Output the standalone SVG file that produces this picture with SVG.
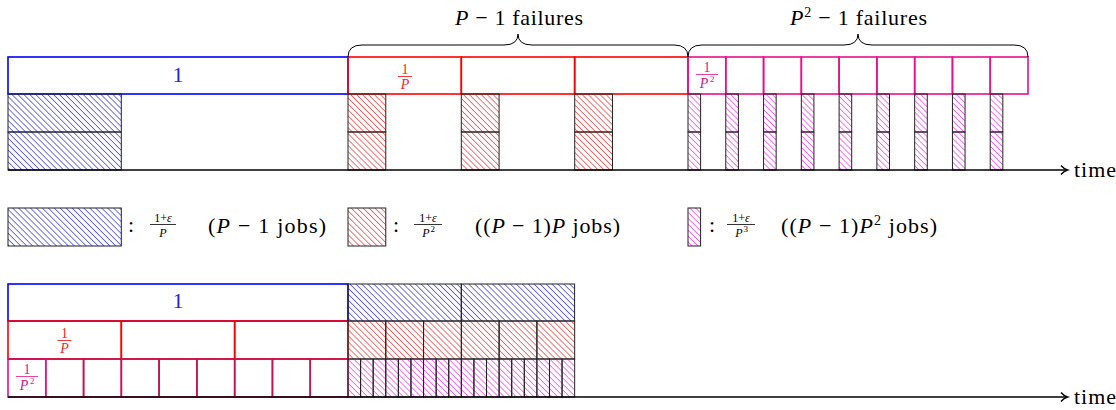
<svg xmlns="http://www.w3.org/2000/svg" width="1116" height="410" viewBox="0 0 1116 410">
<style>
.bg{fill:#fff}
.box{fill:none;stroke-width:1.6}
.b{stroke:#0000ff}
.r{stroke:#ff0000}
.m{stroke:#e8108a}
.c{stroke:#c8124e}
.job{stroke:#222;stroke-width:1}
.jb{fill:url(#hb)}
.jr{fill:url(#hr)}
.jm{fill:url(#hm)}
text{font-family:"Liberation Serif","DejaVu Serif","Times New Roman",serif;fill:#000}
.t{font-size:22px}
.s{font-size:14px}
.ss{font-size:12px}
.xs{font-size:9px}
.i{font-style:italic}
.tb{fill:#2020ff}
.tr{fill:#ff2020}
.tm{fill:#e8108a}
.bar{stroke-width:0.8}
.brace{fill:none;stroke:#000;stroke-width:1}
.axis{fill:none;stroke:#000;stroke-width:1.5}
</style>
<defs>
<pattern id="hb" patternUnits="userSpaceOnUse" width="4.2" height="4.2" patternTransform="rotate(-45)"><line x1="0" y1="-1" x2="0" y2="6" stroke="#0000ff" stroke-width="1.1"/></pattern>
<pattern id="hr" patternUnits="userSpaceOnUse" width="4.2" height="4.2" patternTransform="rotate(-45)"><line x1="0" y1="-1" x2="0" y2="6" stroke="#ff0000" stroke-width="1.1"/></pattern>
<pattern id="hm" patternUnits="userSpaceOnUse" width="4.2" height="4.2" patternTransform="rotate(-45)"><line x1="0" y1="-1" x2="0" y2="6" stroke="#ff00ff" stroke-width="1.1"/></pattern>
<marker id="arr" markerWidth="12" markerHeight="12" refX="8" refY="6" orient="auto" markerUnits="userSpaceOnUse"><path d="M2,1.5 Q5,5 8.5,6 Q5,7 2,10.5" fill="none" stroke="#000" stroke-width="1.4"/></marker>
</defs>
<rect class="bg" x="0" y="0" width="1116" height="410"/>

<!-- Top schedule -->
<g id="top-blue-box">
<rect class="box b" x="8" y="57" width="340" height="37"/>
<text class="t tb" x="178" y="82" text-anchor="middle">1</text>
</g>
<g id="top-red-boxes">
<rect class="box r" x="348" y="57" width="113.3" height="37"/>
<rect class="box r" x="461.3" y="57" width="113.3" height="37"/>
<rect class="box r" x="574.7" y="57" width="113.3" height="37"/>
<text class="s tr" x="405" y="73.5" text-anchor="middle">1</text>
<line class="bar r" x1="398" y1="76.5" x2="412" y2="76.5"/>
<text class="s tr i" x="405" y="88.5" text-anchor="middle">P</text>
</g>
<g id="top-magenta-boxes">
<rect class="box m" x="688" y="57" width="37.78" height="37"/>
<rect class="box m" x="725.78" y="57" width="37.78" height="37"/>
<rect class="box m" x="763.56" y="57" width="37.78" height="37"/>
<rect class="box m" x="801.33" y="57" width="37.78" height="37"/>
<rect class="box m" x="839.11" y="57" width="37.78" height="37"/>
<rect class="box m" x="876.89" y="57" width="37.78" height="37"/>
<rect class="box m" x="914.67" y="57" width="37.78" height="37"/>
<rect class="box m" x="952.44" y="57" width="37.78" height="37"/>
<rect class="box m" x="990.22" y="57" width="37.78" height="37"/>
<text class="s tm" x="707" y="71.5" text-anchor="middle">1</text>
<line class="bar m" x1="696" y1="74.5" x2="718" y2="74.5"/>
<text class="s tm i" x="704" y="88" text-anchor="middle">P</text>
<text class="xs tm" x="710" y="82">2</text>
</g>
<g id="top-blue-jobs">
<rect class="job jb" x="8" y="94" width="113.3" height="38"/>
<rect class="job jb" x="8" y="132" width="113.3" height="38"/>
</g>
<g id="top-red-jobs">
<rect class="job jr" x="348" y="94" width="37.78" height="38"/>
<rect class="job jr" x="348" y="132" width="37.78" height="38"/>
<rect class="job jr" x="461.3" y="94" width="37.78" height="38"/>
<rect class="job jr" x="461.3" y="132" width="37.78" height="38"/>
<rect class="job jr" x="574.7" y="94" width="37.78" height="38"/>
<rect class="job jr" x="574.7" y="132" width="37.78" height="38"/>
</g>
<g id="top-magenta-jobs">
<rect class="job jm" x="688" y="94" width="12.6" height="38"/><rect class="job jm" x="688" y="132" width="12.6" height="38"/>
<rect class="job jm" x="725.78" y="94" width="12.6" height="38"/><rect class="job jm" x="725.78" y="132" width="12.6" height="38"/>
<rect class="job jm" x="763.56" y="94" width="12.6" height="38"/><rect class="job jm" x="763.56" y="132" width="12.6" height="38"/>
<rect class="job jm" x="801.33" y="94" width="12.6" height="38"/><rect class="job jm" x="801.33" y="132" width="12.6" height="38"/>
<rect class="job jm" x="839.11" y="94" width="12.6" height="38"/><rect class="job jm" x="839.11" y="132" width="12.6" height="38"/>
<rect class="job jm" x="876.89" y="94" width="12.6" height="38"/><rect class="job jm" x="876.89" y="132" width="12.6" height="38"/>
<rect class="job jm" x="914.67" y="94" width="12.6" height="38"/><rect class="job jm" x="914.67" y="132" width="12.6" height="38"/>
<rect class="job jm" x="952.44" y="94" width="12.6" height="38"/><rect class="job jm" x="952.44" y="132" width="12.6" height="38"/>
<rect class="job jm" x="990.22" y="94" width="12.6" height="38"/><rect class="job jm" x="990.22" y="132" width="12.6" height="38"/>
</g>
<g id="brace-1">
<path class="brace" d="M348,57 Q348,45 362,45 L504,45 Q518,45 518,34 Q518,45 532,45 L674,45 Q688,45 688,57"/>
<text class="t" x="455" y="25" textLength="128" lengthAdjust="spacing"><tspan class="i">P</tspan> − 1 failures</text>
</g>
<g id="brace-2">
<path class="brace" d="M688,57 Q688,45 702,45 L844,45 Q858,45 858,34 Q858,45 872,45 L1014,45 Q1028,45 1028,57"/>
<text class="t" x="790" y="25" textLength="137" lengthAdjust="spacing"><tspan class="i">P</tspan><tspan class="s" dy="-8">2</tspan><tspan dy="8"> − 1 failures</tspan></text>
</g>

<!-- Legend -->
<g id="legend-blue">
<rect class="job jb" x="8" y="208" width="113.3" height="38"/>
<text class="t" x="128" y="232">:</text>
<text class="ss" x="163" y="221.5" text-anchor="middle">1+<tspan class="i">ε</tspan></text>
<line class="bar" stroke="#000" x1="150" y1="224.5" x2="176" y2="224.5"/>
<text class="ss i" x="163" y="236.5" text-anchor="middle">P</text>
<text class="t" x="208" y="233" textLength="118" lengthAdjust="spacing">(<tspan class="i">P</tspan> − 1 jobs)</text>
</g>
<g id="legend-red">
<rect class="job jr" x="348" y="208" width="37.78" height="38"/>
<text class="t" x="393" y="232">:</text>
<text class="ss" x="428" y="221.5" text-anchor="middle">1+<tspan class="i">ε</tspan></text>
<line class="bar" stroke="#000" x1="414" y1="224.5" x2="442" y2="224.5"/>
<text class="ss i" x="426" y="237" text-anchor="middle">P</text>
<text class="xs" x="430.5" y="231.5">2</text>
<text class="t" x="475" y="233" textLength="145" lengthAdjust="spacing">((<tspan class="i">P</tspan> − 1)<tspan class="i">P</tspan> jobs)</text>
</g>
<g id="legend-magenta">
<rect class="job jm" x="688" y="208" width="12.6" height="38"/>
<text class="t" x="709" y="232">:</text>
<text class="ss" x="741" y="221.5" text-anchor="middle">1+<tspan class="i">ε</tspan></text>
<line class="bar" stroke="#000" x1="727" y1="224.5" x2="755" y2="224.5"/>
<text class="ss i" x="739" y="237" text-anchor="middle">P</text>
<text class="xs" x="743.5" y="231.5">3</text>
<text class="t" x="781" y="233" textLength="156" lengthAdjust="spacing">((<tspan class="i">P</tspan> − 1)<tspan class="i">P</tspan><tspan class="s" dy="-8">2</tspan><tspan dy="8"> jobs)</tspan></text>
</g>

<!-- Bottom schedule -->
<g id="bottom-blue-box">
<rect class="box b" x="8" y="284" width="340" height="37"/>
<text class="t tb" x="178" y="308" text-anchor="middle">1</text>
</g>
<g id="bottom-red-boxes">
<rect class="box r" x="8" y="321" width="113.3" height="38"/>
<rect class="box r" x="121.3" y="321" width="113.3" height="38"/>
<rect class="box r" x="234.7" y="321" width="113.3" height="38"/>
<text class="s tr" x="64.5" y="337.5" text-anchor="middle">1</text>
<line class="bar r" x1="57.5" y1="340.5" x2="71.5" y2="340.5"/>
<text class="s tr i" x="64.5" y="352.5" text-anchor="middle">P</text>
</g>
<g id="bottom-magenta-boxes">
<rect class="box c" x="45.78" y="359" width="37.78" height="38"/>
<rect class="box c" x="83.56" y="359" width="37.78" height="38"/>
<rect class="box c" x="121.33" y="359" width="37.78" height="38"/>
<rect class="box c" x="159.11" y="359" width="37.78" height="38"/>
<rect class="box c" x="196.89" y="359" width="37.78" height="38"/>
<rect class="box c" x="234.67" y="359" width="37.78" height="38"/>
<rect class="box c" x="272.44" y="359" width="37.78" height="38"/>
<rect class="box c" x="310.22" y="359" width="37.78" height="38"/>
<rect class="box m" x="8" y="359" width="37.78" height="38"/>
<line class="box c" x1="8" y1="359" x2="45.78" y2="359"/>
<text class="s tm" x="27" y="373.5" text-anchor="middle">1</text>
<line class="bar m" x1="16" y1="376.5" x2="38" y2="376.5"/>
<text class="s tm i" x="24" y="390" text-anchor="middle">P</text>
<text class="xs tm" x="30" y="384">2</text>
</g>
<g id="bottom-blue-jobs">
<rect class="job jb" x="348" y="284" width="113.3" height="37"/>
<rect class="job jb" x="461.3" y="284" width="113.3" height="37"/>
</g>
<g id="bottom-red-jobs">
<rect class="job jr" x="348" y="321" width="37.78" height="38"/>
<rect class="job jr" x="385.78" y="321" width="37.78" height="38"/>
<rect class="job jr" x="423.56" y="321" width="37.78" height="38"/>
<rect class="job jr" x="461.33" y="321" width="37.78" height="38"/>
<rect class="job jr" x="499.11" y="321" width="37.78" height="38"/>
<rect class="job jr" x="536.89" y="321" width="37.78" height="38"/>
</g>
<g id="bottom-magenta-jobs">
<rect class="job jm" x="348" y="359" width="12.59" height="38"/>
<rect class="job jm" x="360.59" y="359" width="12.59" height="38"/>
<rect class="job jm" x="373.19" y="359" width="12.59" height="38"/>
<rect class="job jm" x="385.78" y="359" width="12.59" height="38"/>
<rect class="job jm" x="398.37" y="359" width="12.59" height="38"/>
<rect class="job jm" x="410.96" y="359" width="12.59" height="38"/>
<rect class="job jm" x="423.56" y="359" width="12.59" height="38"/>
<rect class="job jm" x="436.15" y="359" width="12.59" height="38"/>
<rect class="job jm" x="448.74" y="359" width="12.59" height="38"/>
<rect class="job jm" x="461.33" y="359" width="12.59" height="38"/>
<rect class="job jm" x="473.93" y="359" width="12.59" height="38"/>
<rect class="job jm" x="486.52" y="359" width="12.59" height="38"/>
<rect class="job jm" x="499.11" y="359" width="12.59" height="38"/>
<rect class="job jm" x="511.70" y="359" width="12.59" height="38"/>
<rect class="job jm" x="524.30" y="359" width="12.59" height="38"/>
<rect class="job jm" x="536.89" y="359" width="12.59" height="38"/>
<rect class="job jm" x="549.48" y="359" width="12.59" height="38"/>
<rect class="job jm" x="562.07" y="359" width="12.59" height="38"/>
</g>

<!-- Connectors: time axes -->
<g id="connectors">
<line class="axis" x1="8" y1="170" x2="1067" y2="170" marker-end="url(#arr)"/>
<line class="axis" x1="8" y1="397" x2="1067" y2="397" marker-end="url(#arr)"/>
</g>
<g id="axis-labels">
<text class="t" x="1074" y="176.5" textLength="42" lengthAdjust="spacing">time</text>
<text class="t" x="1074" y="403.5" textLength="42" lengthAdjust="spacing">time</text>
</g>
</svg>
